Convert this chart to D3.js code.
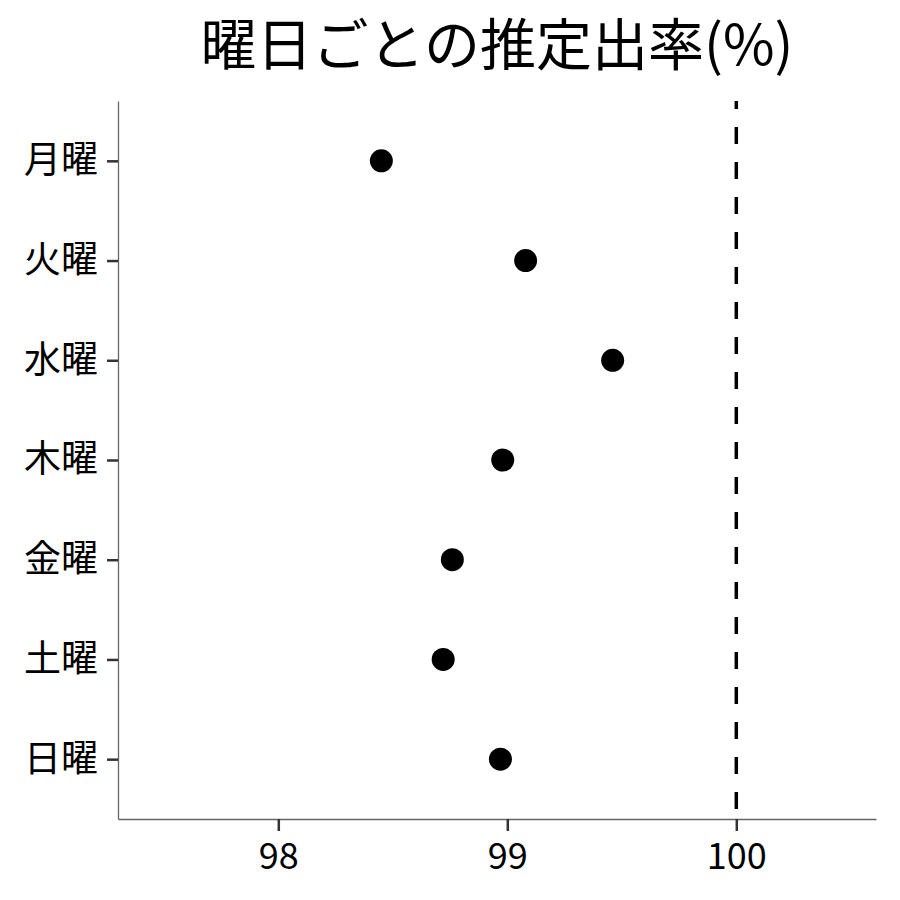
<!DOCTYPE html>
<html><head><meta charset="utf-8">
<script src="https://cdn.jsdelivr.net/npm/d3@7"></script>
<style>body{margin:0;background:#fff}</style>
</head><body>
<script>
const days = ["月曜","火曜","水曜","木曜","金曜","土曜","日曜"];
const rates = [98.45, 99.08, 99.46, 98.98, 98.76, 98.72, 98.97];
const xTicks = [98, 99, 100];
const refValue = 100;
const title = "曜日ごとの推定出率(%)";

const W = 900, H = 900;
const m = {left:118, right:24, top:101, bottom:81};
const svg = d3.select("body").append("svg").attr("width", W).attr("height", H);

const x = d3.scaleLinear().domain([97.30, 100.61]).range([m.left, W - m.right]);
const y = d3.scalePoint().domain(days).range([m.top, H - m.bottom]).padding(0.6);

const font = "'Noto Sans CJK JP','Noto Sans',sans-serif";

// axes
const xAxis = svg.append("g").attr("transform", `translate(0,${H - m.bottom})`)
  .call(d3.axisBottom(x).tickValues(xTicks).tickSize(12).tickSizeOuter(0).tickPadding(7).tickFormat(d3.format("d")));
const yAxis = svg.append("g").attr("transform", `translate(${m.left},0)`)
  .call(d3.axisLeft(y).tickSize(11).tickSizeOuter(0).tickPadding(9));
[xAxis, yAxis].forEach(g => {
  g.select(".domain").attr("stroke", "#666").attr("stroke-width", 1.3);
  g.selectAll(".tick line").attr("stroke", "#333").attr("stroke-width", 2.5);
  g.selectAll(".tick text").attr("fill", "#000").style("font-family", font);
});
yAxis.selectAll(".tick text").style("font-size", "37px");
xAxis.selectAll(".tick text").style("font-size", "36px").attr("dy", "0.85em");

// reference line
svg.append("line")
  .attr("x1", x(refValue)).attr("x2", x(refValue))
  .attr("y1", m.top).attr("y2", H - m.bottom)
  .attr("stroke", "#000").attr("stroke-width", 3.5)
  .attr("stroke-dasharray", "17,18").attr("stroke-dashoffset", 9);

// points
svg.append("g").selectAll("circle").data(days).join("circle")
  .attr("cx", (d, i) => x(rates[i])).attr("cy", d => y(d)).attr("r", 11.5).attr("fill", "#000");

// title
svg.append("text").attr("x", (m.left + W - m.right) / 2).attr("y", 65)
  .attr("text-anchor", "middle").style("font-family", font).style("font-size", "56px")
  .text(title);
</script>
</body></html>
